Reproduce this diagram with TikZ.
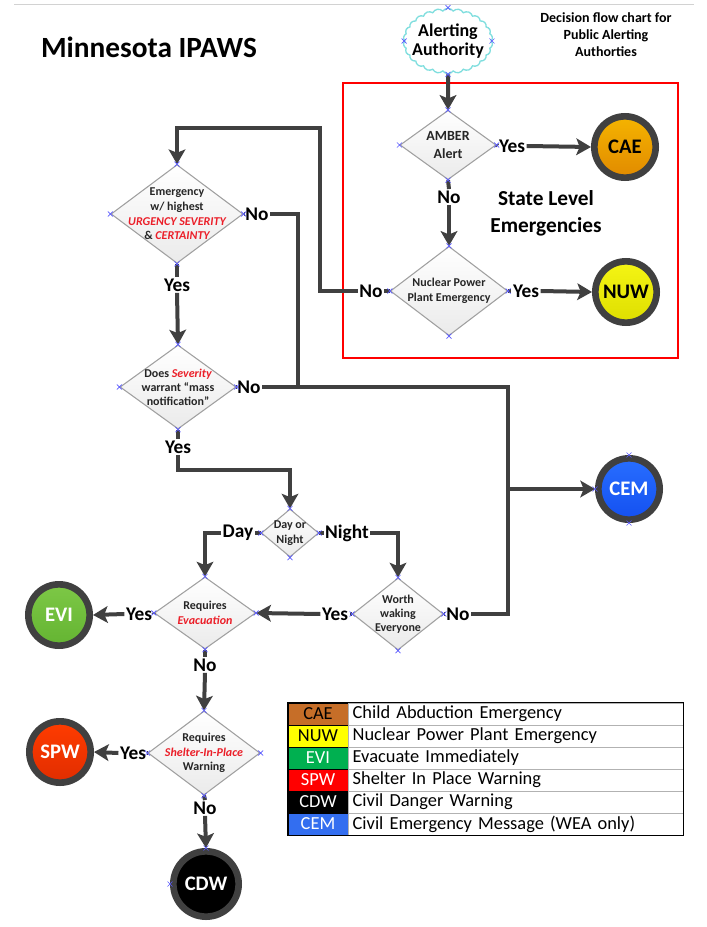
\documentclass[tikz,border=0pt]{standalone}
\usepackage{fontspec}
\setmainfont{Carlito}
\usetikzlibrary{shapes.geometric, shapes.symbols, arrows.meta, calc}
\definecolor{ringgray}{RGB}{64, 64, 64}
\definecolor{cloudcyan}{RGB}{128, 222, 222}
\definecolor{diaedge}{RGB}{160, 160, 160}
\definecolor{alertred}{RGB}{235, 30, 40}
\definecolor{boxred}{RGB}{255, 0, 0}
\definecolor{caetop}{RGB}{245, 180, 0}
\definecolor{caebot}{RGB}{225, 138, 0}
\definecolor{nuwtop}{RGB}{245, 245, 20}
\definecolor{nuwbot}{RGB}{222, 222, 0}
\definecolor{cemtop}{RGB}{40, 110, 255}
\definecolor{cembot}{RGB}{20, 80, 240}
\definecolor{evitop}{RGB}{125, 200, 70}
\definecolor{evibot}{RGB}{100, 180, 50}
\definecolor{spwtop}{RGB}{255, 60, 0}
\definecolor{spwbot}{RGB}{225, 45, 0}
\definecolor{legcae}{RGB}{198, 110, 40}
\definecolor{legnuw}{RGB}{255, 255, 0}
\definecolor{legevi}{RGB}{0, 176, 80}
\definecolor{legspw}{RGB}{255, 0, 0}
\definecolor{legcem}{RGB}{51, 110, 240}
\tikzset{
  dia/.style      = {diamond, draw=diaedge, line width=0.8pt, top color=white, bottom color=gray!16, inner sep=0pt},
  diatxt/.style   = {align=center, text=black!85, font=\fontsize{9}{11}\selectfont\bfseries},
  endpt/.style    = {circle, draw=ringgray, line width=5pt, minimum size=46pt, inner sep=0pt, font=\fontsize{15.5}{18}\selectfont\bfseries},
  flow/.style     = {-{Stealth[length=11pt, width=12.5pt, inset=2.5pt]}, line width=3pt, ringgray},
  link/.style     = {line width=3pt, ringgray},
  lbl/.style      = {inner sep=1pt, font=\fontsize{14.5}{16}\selectfont\bfseries},
  xmk/.style      = {blue!65, line width=0.5pt},
  statebox/.style = {draw=boxred, line width=1.3pt},
  legcode/.style  = {draw=black, line width=0.5pt, minimum width=45pt, minimum height=16.5pt, inner sep=0pt, font=\fontsize{13.8}{16}\selectfont},
  legdesc/.style  = {draw=gray!60, line width=0.5pt, text width=245pt, align=left, inner xsep=3pt, inner ysep=0pt, minimum height=16.5pt, font=\fontsize{13.8}{16}\selectfont},
}
\begin{document}
\begin{tikzpicture}[x=0.75pt, y=-0.75pt]
\useasboundingbox (0,0) rectangle (706,927);

% page edge
\draw[gray!35] (14,4) -- (694,4);

% headings
\node[font=\fontsize{22}{26}\selectfont\bfseries] (title) at (149,47) {Minnesota IPAWS};
\node[align=center, font=\fontsize{10.5}{12.8}\selectfont\bfseries] (subtitle) at (606,35) {Decision flow chart for\\Public Alerting\\Authorties};

% source
\node[cloud, cloud puffs=26, cloud puff arc=110, aspect=1.4, draw=cloudcyan, line width=1pt, minimum width=67pt, minimum height=49pt, inner sep=0pt] (alert) at (448,41) {};
\node[align=center, font=\fontsize{13.5}{14.5}\selectfont\bfseries] (alerttxt) at (alert) {Alerting\\Authority};

% state level block
\draw[statebox] (343,83) rectangle (678,358);
\node[align=center, font=\fontsize{16}{20}\selectfont\bfseries] (statelbl) at (546,213) {State Level\\Emergencies};

% decisions
\node[dia, minimum width=72pt, minimum height=52pt] (amber) at (448,145) {};
\node[diatxt, font=\fontsize{10.5}{13}\selectfont\bfseries] (ambertxt) at (amber) {AMBER\\Alert};
\node[dia, minimum width=88pt, minimum height=67pt] (nuke) at (449,291) {};
\node[diatxt] (nuketxt) at (nuke) {Nuclear Power\\Plant Emergency};
\node[dia, minimum width=99pt, minimum height=74pt] (emerg) at (177,214) {};
\node[diatxt] (emergtxt) at (emerg) {Emergency\\w/ highest\\\textcolor{alertred}{\itshape URGENCY SEVERITY}\\\& \textcolor{alertred}{\itshape CERTAINTY}};
\node[dia, minimum width=87pt, minimum height=63pt] (does) at (178,387) {};
\node[diatxt, font=\fontsize{9}{10.5}\selectfont\bfseries] (doestxt) at (does) {Does \textcolor{alertred}{\itshape Severity}\\warrant “mass\\notification”};
\node[dia, minimum width=43pt, minimum height=36pt] (day) at (290,533) {};
\node[diatxt] (daytxt) at (day) {Day or\\Night};
\node[dia, minimum width=68pt, minimum height=54pt] (worth) at (398,614) {};
\node[diatxt, font=\fontsize{9}{10.7}\selectfont\bfseries] (worthtxt) at (worth) {Worth\\waking\\Everyone};
\node[dia, minimum width=76pt, minimum height=54pt] (evac) at (205,613) {};
\node[diatxt] (evactxt) at (evac) {Requires\\\textcolor{alertred}{\itshape Evacuation}};
\node[dia, minimum width=84pt, minimum height=63pt] (shelter) at (204,753) {};
\node[diatxt] (sheltertxt) at (shelter) {Requires\\\textcolor{alertred}{\itshape Shelter-In-Place}\\Warning};

% outcomes
\node[endpt, top color=caetop, bottom color=caebot] (cae) at (625,147) {CAE};
\node[endpt, top color=nuwtop, bottom color=nuwbot] (nuw) at (626,292) {NUW};
\node[endpt, top color=cemtop, bottom color=cembot, text=white] (cem) at (629,489) {CEM};
\node[endpt, top color=evitop, bottom color=evibot, text=white] (evi) at (59,615) {EVI};
\node[endpt, top color=spwtop, bottom color=spwbot, text=white] (spw) at (60,752) {SPW};
\node[endpt, fill=black, text=white, minimum size=49pt] (cdw) at (206,884) {CDW};

% yes / no labels
\node[lbl] (ambyes) at (512,146) {Yes};
\node[lbl] (ambno) at (449,197) {No};
\node[lbl] (nukeyes) at (526,291) {Yes};
\node[lbl] (nukeno) at (371,291) {No};
\node[lbl] (emergno) at (257,214) {No};
\node[lbl] (emergyes) at (177,285) {Yes};
\node[lbl] (doesno) at (249,387) {No};
\node[lbl] (doesyes) at (178,447) {Yes};
\node[lbl] (dayday) at (238,533) {Day};
\node[lbl] (daynight) at (347,533) {Night};
\node[lbl] (worthyes) at (335,614) {Yes};
\node[lbl] (worthno) at (458,614) {No};
\node[lbl] (evacyes) at (139,614) {Yes};
\node[lbl] (evacno) at (205,665) {No};
\node[lbl] (shelteryes) at (133,753) {Yes};
\node[lbl] (shelterno) at (205,808) {No};

% bends
\coordinate (loopturn) at (320,128);
\coordinate (busjoin) at (298,387);
\coordinate (busbot) at (508,614);
\coordinate (dayturn) at (290,470);

% connectors
\draw[flow] (alert.south) -- (amber.north);
\draw[link] (amber.east) -- (ambyes.west);
\draw[flow] (ambyes.east) -- (cae.west);
\draw[link] (amber.south) -- (ambno.north);
\draw[flow] (ambno.south) -- (nuke.north);
\draw[link] (nuke.east) -- (nukeyes.west);
\draw[flow] (nukeyes.east) -- (nuw.west);
\draw[link] (nuke.west) -- (nukeno.east);
\draw[flow] (nukeno.west) -| (loopturn) -| (emerg.north);

\draw[link] (emerg.east) -- (emergno.west);
\draw[link] (emergno.east) -| (busjoin);
\draw[link] (emerg.south) -- (emergyes.north);
\draw[flow] (emergyes.south) -- (does.north);

\draw[link] (does.east) -- (doesno.west);
\draw[link] (doesno.east) -| (busbot) -- (worthno.east);
\draw[flow] (cem.west -| busbot) -- (cem.west);
\draw[link] (does.south) -- (doesyes.north);
\draw[flow] (doesyes.south) |- (dayturn) -- (day.north);

\draw[link] (day.west) -- (dayday.east);
\draw[flow] (dayday.west) -| (evac.north);
\draw[link] (day.east) -- (daynight.west);
\draw[flow] (daynight.east) -| (worth.north);

\draw[link] (worth.west) -- (worthyes.east);
\draw[flow] (worthyes.west) -- (evac.east);
\draw[link] (worth.east) -- (worthno.west);

\draw[link] (evac.west) -- (evacyes.east);
\draw[flow] (evacyes.west) -- (evi.east);
\draw[link] (evac.south) -- (evacno.north);
\draw[flow] (evacno.south) -- (shelter.north);

\draw[link] (shelter.west) -- (shelteryes.east);
\draw[flow] (shelteryes.west) -- (spw.east);
\draw[link] (shelter.south) -- (shelterno.north);
\draw[flow] (shelterno.south) -- (cdw.north);

% connection points
\foreach \n in {alert, amber, nuke, emerg, does, day, worth, evac, shelter}
  \foreach \a in {north, south, east, west}
    \draw[xmk] (\n.\a) ++(-2.5,-2.5) -- ++(5,5) ++(-5,0) -- ++(5,-5);
\foreach \p in {cem.north, cem.south, cem.west, cdw.north, cdw.west}
  \draw[xmk] (\p) ++(-2.5,-2.5) -- ++(5,5) ++(-5,0) -- ++(5,-5);

% legend
\foreach \code/\desc/\bg/\fg [count=\i] in {CAE/Child Abduction Emergency/legcae/black, NUW/Nuclear Power Plant Emergency/legnuw/black, EVI/Evacuate Immediately/legevi/white, SPW/Shelter In Place Warning/legspw/white, CDW/Civil Danger Warning/black/white, CEM/Civil Emergency Message (WEA only)/legcem/white} {
  \node[legcode, fill=\bg, text=\fg] (code\i) at (318,{692+22*\i}) {\code};
  \node[legdesc, anchor=west] (desc\i) at (code\i.east) {\desc};
}
\draw[line width=0.8pt] (code1.north west) rectangle (desc6.south east);

\end{tikzpicture}
\end{document}
